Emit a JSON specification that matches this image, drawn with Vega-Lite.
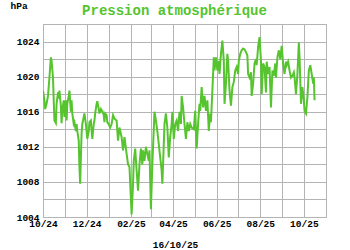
{
  "$schema": "https://vega.github.io/schema/vega-lite/v6.json",
  "width": 283,
  "height": 193,
  "autosize": {"type": "none"},
  "padding": {"left": 43, "top": 24, "right": 24, "bottom": 33},
  "background": "#ffffff",
  "title": {
    "text": "Pression atmosphérique",
    "font": "Liberation Mono",
    "fontSize": 14,
    "fontWeight": "bold",
    "color": "#55c42f",
    "anchor": "middle",
    "dx": -10,
    "dy": 29,
    "offset": 0,
    "baseline": "alphabetic"
  },
  "data": {
    "values": [
      {"date": "2024-10-01", "p": 1018.4}, {"date": "2024-10-03", "p": 1017.3}, {"date": "2024-10-04", "p": 1016.3},
      {"date": "2024-10-06", "p": 1016.9}, {"date": "2024-10-08", "p": 1017.8}, {"date": "2024-10-10", "p": 1019.9},
      {"date": "2024-10-12", "p": 1022.2}, {"date": "2024-10-13", "p": 1021.8}, {"date": "2024-10-15", "p": 1019.9},
      {"date": "2024-10-16", "p": 1017.3}, {"date": "2024-10-17", "p": 1015.0}, {"date": "2024-10-19", "p": 1014.7},
      {"date": "2024-10-20", "p": 1016.9}, {"date": "2024-10-22", "p": 1018.2}, {"date": "2024-10-23", "p": 1017.5},
      {"date": "2024-10-24", "p": 1018.4}, {"date": "2024-10-26", "p": 1016.7}, {"date": "2024-10-27", "p": 1014.7},
      {"date": "2024-10-28", "p": 1016.1}, {"date": "2024-10-30", "p": 1017.3}, {"date": "2024-10-31", "p": 1015.4},
      {"date": "2024-11-02", "p": 1017.3}, {"date": "2024-11-03", "p": 1015.0}, {"date": "2024-11-04", "p": 1016.9},
      {"date": "2024-11-06", "p": 1017.8}, {"date": "2024-11-07", "p": 1018.4}, {"date": "2024-11-09", "p": 1016.0},
      {"date": "2024-11-10", "p": 1017.3}, {"date": "2024-11-11", "p": 1015.8}, {"date": "2024-11-13", "p": 1014.6},
      {"date": "2024-11-14", "p": 1014.8}, {"date": "2024-11-16", "p": 1013.8}, {"date": "2024-11-17", "p": 1014.6},
      {"date": "2024-11-18", "p": 1013.8}, {"date": "2024-11-20", "p": 1012.7}, {"date": "2024-11-21", "p": 1009.7},
      {"date": "2024-11-22", "p": 1007.8}, {"date": "2024-11-23", "p": 1010.8}, {"date": "2024-11-24", "p": 1013.5},
      {"date": "2024-11-25", "p": 1014.6}, {"date": "2024-11-27", "p": 1015.4}, {"date": "2024-11-28", "p": 1015.8},
      {"date": "2024-11-30", "p": 1014.6}, {"date": "2024-12-01", "p": 1013.8}, {"date": "2024-12-02", "p": 1012.9},
      {"date": "2024-12-04", "p": 1013.8}, {"date": "2024-12-05", "p": 1014.8}, {"date": "2024-12-07", "p": 1015.0},
      {"date": "2024-12-08", "p": 1013.8}, {"date": "2024-12-09", "p": 1012.9}, {"date": "2024-12-11", "p": 1014.6},
      {"date": "2024-12-12", "p": 1015.0}, {"date": "2024-12-13", "p": 1015.8}, {"date": "2024-12-15", "p": 1016.9},
      {"date": "2024-12-16", "p": 1017.2}, {"date": "2024-12-18", "p": 1016.3}, {"date": "2024-12-19", "p": 1015.8},
      {"date": "2024-12-21", "p": 1016.3}, {"date": "2024-12-22", "p": 1016.1}, {"date": "2024-12-23", "p": 1016.1},
      {"date": "2024-12-25", "p": 1015.6}, {"date": "2024-12-26", "p": 1014.8}, {"date": "2024-12-27", "p": 1015.8},
      {"date": "2024-12-29", "p": 1015.6}, {"date": "2024-12-30", "p": 1014.8}, {"date": "2025-01-01", "p": 1014.6},
      {"date": "2025-01-02", "p": 1014.4}, {"date": "2025-01-03", "p": 1014.2}, {"date": "2025-01-05", "p": 1014.6},
      {"date": "2025-01-07", "p": 1015.6}, {"date": "2025-01-09", "p": 1015.2}, {"date": "2025-01-12", "p": 1015.0},
      {"date": "2025-01-14", "p": 1012.7}, {"date": "2025-01-16", "p": 1014.2}, {"date": "2025-01-19", "p": 1013.1},
      {"date": "2025-01-21", "p": 1011.6}, {"date": "2025-01-23", "p": 1013.1}, {"date": "2025-01-26", "p": 1011.2},
      {"date": "2025-01-28", "p": 1010.0}, {"date": "2025-01-30", "p": 1009.7}, {"date": "2025-02-02", "p": 1004.3},
      {"date": "2025-02-04", "p": 1007.8}, {"date": "2025-02-05", "p": 1010.4}, {"date": "2025-02-07", "p": 1011.8},
      {"date": "2025-02-09", "p": 1009.3}, {"date": "2025-02-11", "p": 1007.0}, {"date": "2025-02-13", "p": 1010.0},
      {"date": "2025-02-15", "p": 1011.8}, {"date": "2025-02-17", "p": 1010.0}, {"date": "2025-02-18", "p": 1011.6},
      {"date": "2025-02-20", "p": 1010.4}, {"date": "2025-02-22", "p": 1012.0}, {"date": "2025-02-24", "p": 1011.2},
      {"date": "2025-02-26", "p": 1010.4}, {"date": "2025-02-27", "p": 1011.6}, {"date": "2025-03-01", "p": 1004.9},
      {"date": "2025-03-03", "p": 1010.0}, {"date": "2025-03-04", "p": 1012.0}, {"date": "2025-03-06", "p": 1016.0},
      {"date": "2025-03-08", "p": 1015.0}, {"date": "2025-03-10", "p": 1013.8}, {"date": "2025-03-12", "p": 1012.3},
      {"date": "2025-03-14", "p": 1010.8}, {"date": "2025-03-16", "p": 1009.3}, {"date": "2025-03-17", "p": 1007.8},
      {"date": "2025-03-18", "p": 1010.0}, {"date": "2025-03-20", "p": 1014.6}, {"date": "2025-03-22", "p": 1015.8},
      {"date": "2025-03-24", "p": 1014.2}, {"date": "2025-03-26", "p": 1010.8}, {"date": "2025-03-28", "p": 1013.1},
      {"date": "2025-03-30", "p": 1014.6}, {"date": "2025-03-31", "p": 1016.0}, {"date": "2025-04-02", "p": 1012.9},
      {"date": "2025-04-04", "p": 1014.6}, {"date": "2025-04-06", "p": 1015.0}, {"date": "2025-04-08", "p": 1013.8},
      {"date": "2025-04-10", "p": 1016.0}, {"date": "2025-04-12", "p": 1014.6}, {"date": "2025-04-13", "p": 1017.8},
      {"date": "2025-04-15", "p": 1016.5}, {"date": "2025-04-17", "p": 1014.6}, {"date": "2025-04-19", "p": 1012.9},
      {"date": "2025-04-21", "p": 1014.8}, {"date": "2025-04-23", "p": 1013.8}, {"date": "2025-04-25", "p": 1014.6},
      {"date": "2025-04-27", "p": 1014.2}, {"date": "2025-04-30", "p": 1014.0}, {"date": "2025-05-02", "p": 1016.1},
      {"date": "2025-05-04", "p": 1011.8}, {"date": "2025-05-06", "p": 1014.6}, {"date": "2025-05-08", "p": 1016.9},
      {"date": "2025-05-09", "p": 1016.1}, {"date": "2025-05-11", "p": 1018.8}, {"date": "2025-05-13", "p": 1016.5},
      {"date": "2025-05-15", "p": 1017.8}, {"date": "2025-05-17", "p": 1016.1}, {"date": "2025-05-19", "p": 1017.3},
      {"date": "2025-05-21", "p": 1013.8}, {"date": "2025-05-23", "p": 1015.8}, {"date": "2025-05-24", "p": 1014.8},
      {"date": "2025-05-26", "p": 1018.4}, {"date": "2025-05-28", "p": 1022.2}, {"date": "2025-05-29", "p": 1020.7},
      {"date": "2025-05-31", "p": 1022.2}, {"date": "2025-06-02", "p": 1020.7}, {"date": "2025-06-04", "p": 1021.8},
      {"date": "2025-06-05", "p": 1020.3}, {"date": "2025-06-07", "p": 1022.6}, {"date": "2025-06-09", "p": 1024.1},
      {"date": "2025-06-11", "p": 1021.8}, {"date": "2025-06-12", "p": 1016.9}, {"date": "2025-06-14", "p": 1019.2},
      {"date": "2025-06-16", "p": 1022.6}, {"date": "2025-06-17", "p": 1021.8}, {"date": "2025-06-19", "p": 1018.4},
      {"date": "2025-06-21", "p": 1016.7}, {"date": "2025-06-23", "p": 1018.8}, {"date": "2025-06-25", "p": 1019.4},
      {"date": "2025-06-27", "p": 1020.7}, {"date": "2025-06-29", "p": 1021.1}, {"date": "2025-07-01", "p": 1020.3},
      {"date": "2025-07-02", "p": 1021.8}, {"date": "2025-07-04", "p": 1022.6}, {"date": "2025-07-06", "p": 1023.0},
      {"date": "2025-07-08", "p": 1023.2}, {"date": "2025-07-10", "p": 1023.1}, {"date": "2025-07-12", "p": 1022.8},
      {"date": "2025-07-14", "p": 1022.4}, {"date": "2025-07-15", "p": 1020.3}, {"date": "2025-07-17", "p": 1019.9},
      {"date": "2025-07-19", "p": 1020.5}, {"date": "2025-07-20", "p": 1017.8}, {"date": "2025-07-22", "p": 1019.2},
      {"date": "2025-07-24", "p": 1021.5}, {"date": "2025-07-26", "p": 1022.0}, {"date": "2025-07-27", "p": 1021.3},
      {"date": "2025-07-29", "p": 1023.4}, {"date": "2025-07-31", "p": 1024.5}, {"date": "2025-08-02", "p": 1021.8},
      {"date": "2025-08-03", "p": 1018.0}, {"date": "2025-08-05", "p": 1021.5}, {"date": "2025-08-07", "p": 1021.1},
      {"date": "2025-08-09", "p": 1018.2}, {"date": "2025-08-10", "p": 1021.7}, {"date": "2025-08-12", "p": 1020.3},
      {"date": "2025-08-14", "p": 1021.1}, {"date": "2025-08-16", "p": 1016.5}, {"date": "2025-08-18", "p": 1020.7},
      {"date": "2025-08-20", "p": 1020.1}, {"date": "2025-08-22", "p": 1021.5}, {"date": "2025-08-23", "p": 1019.9},
      {"date": "2025-08-25", "p": 1022.2}, {"date": "2025-08-27", "p": 1023.0}, {"date": "2025-08-29", "p": 1022.0},
      {"date": "2025-08-31", "p": 1023.5}, {"date": "2025-09-02", "p": 1021.5}, {"date": "2025-09-04", "p": 1020.3},
      {"date": "2025-09-06", "p": 1021.7}, {"date": "2025-09-07", "p": 1021.3}, {"date": "2025-09-09", "p": 1021.7},
      {"date": "2025-09-11", "p": 1020.7}, {"date": "2025-09-13", "p": 1019.9}, {"date": "2025-09-15", "p": 1020.1},
      {"date": "2025-09-17", "p": 1020.5}, {"date": "2025-09-18", "p": 1019.9}, {"date": "2025-09-20", "p": 1018.0},
      {"date": "2025-09-22", "p": 1020.3}, {"date": "2025-09-24", "p": 1023.9}, {"date": "2025-09-25", "p": 1022.2},
      {"date": "2025-09-27", "p": 1016.9}, {"date": "2025-09-29", "p": 1018.8}, {"date": "2025-10-01", "p": 1017.3},
      {"date": "2025-10-02", "p": 1016.1}, {"date": "2025-10-04", "p": 1015.8}, {"date": "2025-10-06", "p": 1017.7},
      {"date": "2025-10-08", "p": 1020.7}, {"date": "2025-10-10", "p": 1021.3}, {"date": "2025-10-12", "p": 1020.3},
      {"date": "2025-10-14", "p": 1019.2}, {"date": "2025-10-15", "p": 1019.9}, {"date": "2025-10-16", "p": 1017.3}
    ]
  },
  "mark": {"type": "line", "color": "#55c42f", "strokeWidth": 2, "clip": true},
  "encoding": {
    "x": {
      "field": "date",
      "type": "temporal",
      "scale": {
        "type": "utc",
        "domain": [
          {"year": 2024, "month": 10, "date": 1, "utc": true},
          {"year": 2025, "month": 11, "date": 1, "utc": true}
        ],
        "nice": false
      },
      "axis": {
        "tickCount": {"interval": "month", "step": 1},
        "labelExpr": "utcmonth(datum.value) % 2 == 1 ? utcFormat(datum.value, '%m/%y') : ''",
        "labelFlush": false,
        "labelOverlap": false,
        "labelPadding": 1,
        "labelBaseline": "top",
        "title": "16/10/25",
        "titleX": 132,
        "titleY": 30,
        "titleAlign": "center",
        "titleBaseline": "alphabetic"
      }
    },
    "y": {
      "field": "p",
      "type": "quantitative",
      "scale": {"domain": [1004, 1026], "nice": false, "zero": false},
      "axis": {
        "values": [1004, 1006, 1008, 1010, 1012, 1014, 1016, 1018, 1020, 1022, 1024, 1026],
        "labelExpr": "datum.value % 4 == 0 ? datum.value : ''",
        "labelPadding": 4,
        "labelBaseline": "middle",
        "title": "hPa",
        "titleAngle": 0,
        "titleX": -33,
        "titleY": -16,
        "titleAlign": "left",
        "titleBaseline": "alphabetic"
      }
    }
  },
  "config": {
    "font": "Liberation Mono",
    "view": {"stroke": "#a9a9a9", "strokeWidth": 1},
    "axis": {
      "domain": false,
      "ticks": false,
      "grid": true,
      "gridColor": "#b4b4b4",
      "gridOpacity": 1,
      "gridWidth": 1,
      "labelFont": "Liberation Mono",
      "labelFontWeight": "bold",
      "labelFontSize": 9.5,
      "labelColor": "#000000",
      "titleFont": "Liberation Mono",
      "titleFontWeight": "bold",
      "titleFontSize": 9.5,
      "titleColor": "#000000"
    }
  }
}
